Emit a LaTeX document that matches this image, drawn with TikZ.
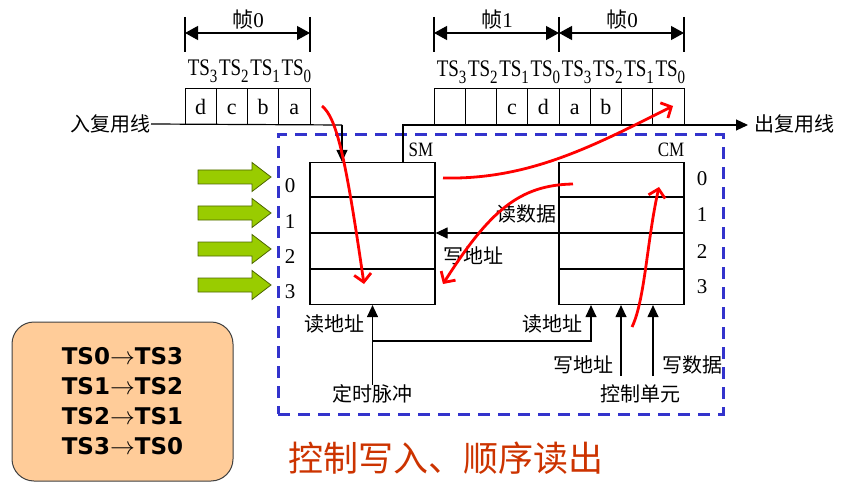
\documentclass[tikz,border=0pt]{standalone}
\usepackage{graphicx}
\usepackage{fontspec}
\setmainfont{Liberation Serif}
\newfontfamily\cjk{Noto Sans CJK SC}
\newfontfamily\vsans{DejaVu Sans}
\usetikzlibrary{arrows.meta}
\definecolor{dblue}{HTML}{3333CC}
\definecolor{lgreen}{HTML}{99CC00}
\definecolor{dgreen}{HTML}{4D6600}
\definecolor{peach}{HTML}{FFCC99}
\definecolor{tred}{HTML}{CC3300}
\newcommand\tss[1]{\scalebox{1}[1.25]{TS\raisebox{-5pt}{\fontsize{15}{15}\selectfont #1}}}
\begin{document}
\begin{tikzpicture}[x=1pt,y=-1pt,
  lat/.style={font=\fontsize{21}{24}\selectfont, inner sep=0pt},
  tsl/.style={font=\fontsize{19}{22}\selectfont, inner sep=0pt, anchor=base},
  cj/.style={font=\fontsize{20}{24}\selectfont\cjk, inner sep=0pt},
  cell/.style={draw, line width=1pt, minimum width=31.25pt, minimum height=36pt, inner sep=0pt, text height=16pt, text depth=1pt, font=\fontsize{22}{24}\selectfont},
  mem/.style={draw, line width=1.2pt, minimum width=125pt, minimum height=142pt, inner sep=0pt},
  thin/.style={line width=1.2pt},
  blk/.style={line width=1.2pt, -{Triangle[length=12pt,width=11pt]}},
  dim/.style={line width=1.2pt, {Triangle[length=13pt,width=14pt]}-{Triangle[length=13pt,width=14pt]}},
  redarr/.style={draw=red, line width=2.8pt, -{Straight Barb[length=8pt,width=17pt]}},
  garrow/.style={draw=dgreen, fill=lgreen, line width=0.8pt, line join=miter}
]
\useasboundingbox (0,0) rectangle (851,489);

% control unit dashed frame
\node[draw=dblue, dash pattern=on 12pt off 8pt, line width=3pt, minimum width=445pt, minimum height=279pt, inner sep=0pt] (unit) at (500.5,274.5) {};

% input cells
\foreach \i/\t in {0/d,1/c,2/b,3/a}
  \node[cell] (in\i) at ({185+31.25*(\i+0.5)},107) {\t};
\foreach \i/\t in {0/3,1/2,2/1,3/0}
  \node[tsl] (its\i) at ({187+31.25*(\i+0.5)},76) {\tss{\t}};

% output cells
\foreach \i/\t in {0/{},1/{},2/c,3/d,4/a,5/b,6/{},7/{}}
  \node[cell] (out\i) at ({434+31.25*(\i+0.5)},107) {\t};
\foreach \i/\t in {0/3,1/2,2/1,3/0,4/3,5/2,6/1,7/0}
  \node[tsl] (ots\i) at ({436+31.25*(\i+0.5)},77) {\tss{\t}};

% frame dimension marks
\foreach \n/\x in {a/185,b/310,c/434,d/559,e/684}
  \draw[thin] (\x,17) coordinate (t\n) -- (\x,52);
\coordinate (da) at (185,33); \coordinate (db) at (310,33);
\coordinate (dc) at (434,33); \coordinate (dd) at (559,33); \coordinate (de) at (684,33);
\draw[dim] (da) -- (db);
\draw[dim] (dc) -- (dd);
\draw[dim] (dd) -- (de);
\node[lat] (f0a) at (248,20) {{\cjk 帧}0};
\node[lat] (f1) at (497,20) {{\cjk 帧}1};
\node[lat] (f0b) at (622,20) {{\cjk 帧}0};

% memories
\node[mem] (sm) at (372.5,233.5) {};
\node[mem] (cm) at (621.5,233.5) {};
\foreach \y in {197,233,269} {
  \draw[thin] (sm.west |- 0,\y) -- (sm.east |- 0,\y);
  \draw[thin] (cm.west |- 0,\y) -- (cm.east |- 0,\y);
}
\node[font=\fontsize{17}{18}\selectfont, inner sep=0pt] (smlbl) at (421,150) {\scalebox{1}[1.2]{SM}};
\node[font=\fontsize{17}{18}\selectfont, inner sep=0pt] (cmlbl) at (671,150) {\scalebox{1}[1.2]{CM}};
\foreach \y/\n in {186/0,222/1,257/2,292/3}
  \node[lat] (smn\n) at (290,\y) {\n};
\foreach \y/\n in {179/0,215/1,252/2,287/3}
  \node[lat] (cmn\n) at (702,\y) {\n};

% green input arrows
\foreach \y/\n in {177/0,213/1,249/2,285/3} {
  \coordinate (g\n) at (198,\y);
  \draw[garrow, shift={(g\n)}] (0,-7) -- (54,-7) -- (54,-14.5) -- (73,0) -- (54,14.5) -- (54,7) -- (0,7) -- cycle;
}

% input / output lines
\node[cj, anchor=east] (inlbl) at (151,124) {入复用线};
\node[cj, anchor=west] (outlbl) at (754,124) {出复用线};
\coordinate (inC) at (342,125);
\draw[thin] (inlbl.east) -- (inC);
\draw[blk] (inC) -- (inC |- sm.north);
\coordinate (outC) at (403,125);
\coordinate (outE) at (748,125);
\draw[blk] (outC |- sm.north) -- (outC) -- (outE);

% read data arrow CM -> SM
\draw[blk] (cm.west |- 0,233) -- (sm.east |- 0,233);
\node[cj, anchor=east] (rd) at (557,214) {读数据};
\node[cj] (wa1) at (473,256) {写地址};

% bottom connections
\node[cj] (clk) at (372.5,394) {定时脉冲};
\node[cj] (ctl) at (640,394) {控制单元};
\draw[blk] (clk.north) -- (clk.north |- sm.south);
\coordinate (br) at (372.5,341);
\coordinate (cmr) at (591,341);
\draw[blk] (br) -- (cmr) -- (cmr |- cm.south);
\node[cj] (ra1) at (334,324) {读地址};
\node[cj] (ra2) at (552,324) {读地址};
\coordinate (wa) at (621,376);
\coordinate (wd) at (653,376);
\draw[blk] (wa) -- (wa |- cm.south);
\draw[blk] (wd) -- (wd |- cm.south);
\node[cj] (wa2) at (583,365) {写地址};
\node[cj] (wdl) at (692,365) {写数据};

% red flow curves
\coordinate (r1s) at (322,106); \coordinate (r1e) at (364,284);
\coordinate (r2s) at (443,178); \coordinate (r2e) at (673,106);
\coordinate (r3s) at (573,184); \coordinate (r3e) at (443,284);
\coordinate (r4s) at (632,327); \coordinate (r4e) at (659,187);
\draw[redarr] (r1s) .. controls (337,118) and (346,160) .. (r1e);
\draw[redarr] (r2s) .. controls (530,180) and (595,145) .. (r2e);
\draw[redarr] (r3s) .. controls (520,185) and (490,210) .. (r3e);
\draw[redarr] (r4s) .. controls (645,300) and (647,240) .. (r4e);

% mapping box
\node[draw=black!75, line width=1pt, fill=peach, rounded corners=22pt, minimum width=221pt, minimum height=159pt, align=center, font=\fontsize{23}{30}\selectfont\vsans\bfseries] (rules) at (122.5,401.5)
  {TS0$\rightarrow$TS3\\TS1$\rightarrow$TS2\\TS2$\rightarrow$TS1\\TS3$\rightarrow$TS0};

% title
\node[font=\fontsize{35}{36}\selectfont\cjk, text=tred, inner sep=0pt] (title) at (446,458) {控制写入、顺序读出};
\end{tikzpicture}
\end{document}
